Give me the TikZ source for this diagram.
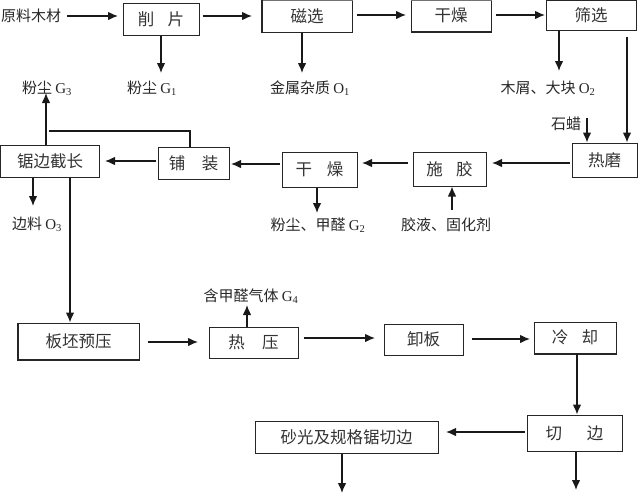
\documentclass[tikz,border=0pt]{standalone}
\usepackage{fontspec}
\setmainfont{Liberation Serif}
\newfontfamily\cjk{Noto Sans CJK SC}
\usetikzlibrary{arrows.meta}
\begin{document}
\begin{tikzpicture}[x=1pt,y=-1pt,
  box/.style={draw=black!85,line width=1pt,inner sep=0pt,font=\cjk\fontsize{16.5}{18}\selectfont,text=black!80},
  lbl/.style={inner sep=0pt,font=\cjk\fontsize{15}{17}\selectfont,text=black!85},
  arr/.style={line width=1.1pt,draw=black!90,-{Latex[length=10pt,width=8.5pt]}},
  ln/.style={line width=1.1pt,draw=black!90},
  thk/.style={line width=2pt,draw=black!85},
  thkg/.style={line width=2.2pt,draw=black!55}]
\useasboundingbox (0,0) rectangle (641,493);
% boxes
\node[box,minimum width=76,minimum height=32] (xp) at (161,19) {削\hspace{0.8em}片};
\node[box,minimum width=90,minimum height=32] (cx) at (307,16.5) {磁选};
\node[box,minimum width=80,minimum height=31] (gz1) at (451,15.5) {干燥};
\node[box,minimum width=90,minimum height=30] (sx) at (591,15.5) {筛选};
\node[box,minimum width=65,minimum height=34] (rm) at (604.5,160) {热磨};
\node[box,minimum width=73,minimum height=34] (sj) at (449.5,169) {施\hspace{0.8em}胶};
\node[box,minimum width=75,minimum height=35] (gz2) at (319.5,169.5) {干\hspace{0.9em}燥};
\node[box,minimum width=71,minimum height=32] (pz) at (193.5,163) {铺\hspace{1em}装};
\node[box,minimum width=99,minimum height=32] (jb) at (50,161) {锯边截长};
\node[box,minimum width=121,minimum height=36] (bp) at (78.5,341) {板坯预压};
\node[box,minimum width=89,minimum height=31] (ry) at (253.5,342.5) {热\hspace{1.05em}压};
\node[box,minimum width=79,minimum height=31] (xb) at (423.5,339.5) {卸板};
\node[box,minimum width=82,minimum height=31] (lq) at (575,337.5) {冷\hspace{0.8em}却};
\node[box,minimum width=95,minimum height=36] (qb) at (574.5,433) {切\hspace{1.5em}边};
\node[box,minimum width=183,minimum height=32] (sg) at (346.5,437) {砂光及规格锯切边};
% thicker edges
\draw[thkg] (cx.north west) -- (cx.north east);
\draw[thk] (cx.north west) -- (cx.south west);
\draw[thkg] (gz1.north west) -- (gz1.north east);
\draw[thk] (gz1.south west) -- (gz1.south east);
\draw[thk] (bp.north west) -- (bp.south west) -- (bp.south east);
\draw[thk] (lq.south west) -- (lq.south east);
% labels
\node[lbl,anchor=west] (ylmc) at (1,16) {原料木材};
\node[lbl] (g1) at (152,88) {粉尘 \rmfamily G\textsubscript{1}};
\node[lbl] (o1) at (310,88) {金属杂质 \rmfamily O\textsubscript{1}};
\node[lbl] (o2) at (548,88) {木屑、大块 \rmfamily O\textsubscript{2}};
\node[lbl] (sl) at (566,124) {石蜡};
\node[lbl] (g3) at (47,88) {粉尘 \rmfamily G\textsubscript{3}};
\node[lbl] (g2) at (318,225) {粉尘、甲醛 \rmfamily G\textsubscript{2}};
\node[lbl] (jy) at (446,225) {胶液、固化剂};
\node[lbl] (o3) at (37,224) {边料 \rmfamily O\textsubscript{3}};
\node[lbl] (g4) at (251,296) {含甲醛气体 \rmfamily G\textsubscript{4}};
% top row
\draw[arr] (ylmc.east |- 0,16) ++(6,0) -- (118,16);
\draw[arr] (xp.east |- 0,16) ++(3,0) -- (252,16);
\draw[arr] (cx.east |- 0,15) ++(4,0) -- (406,15);
\draw[arr] (gz1.east |- 0,15) ++(4,0) -- (545,15);
\draw[arr] (xp.south -| 161,0) -- (161,73);
\draw[arr] (cx.south -| 302,0) -- (302,73);
\draw[arr] (sx.south -| 559,0) -- (559,71);
\draw[arr] (627,37) -- (rm.north -| 627,0);
\draw[arr] (rm.north -| 587,0) ++(0,-25) -- (rm.north -| 587,0);
% second row
\draw[arr] (rm.west |- 0,163) ++(-2,0) -- (492,163);
\draw[arr] (sj.west |- 0,163) ++(-5,0) -- (362,163);
\draw[arr] (jy.north -| 452,0) ++(0,-8) -- (sj.south -| 452,0);
\draw[arr] (gz2.south -| 317,0) -- (317,213);
\draw[arr] (gz2.west |- 0,164) ++(-2,0) -- (231,164);
\draw[arr] (pz.west |- 0,161) ++(-2,0) -- (105,161);
\draw[arr] (jb.north -| 46,0) -- (46,93);
\draw[ln] (pz.north -| 190,0) -- (190,131) -- (49,131);
\draw[arr] (jb.south -| 33,0) -- (33,206);
\draw[arr] (jb.south -| 70,0) -- (bp.north -| 70,0);
% third row
\draw[arr] (bp.east |- 0,342) ++(8,0) -- (198,342);
\draw[arr] (ry.north -| 247,0) -- (247,305);
\draw[arr] (ry.east |- 0,338) ++(5,0) -- (375,338);
\draw[arr] (xb.east |- 0,339) ++(8,0) -- (530,339);
\draw[arr] (lq.south -| 577,0) -- (qb.north -| 577,0);
% bottom
\draw[arr] (qb.west |- 0,432) ++(-2,0) -- (446,432);
\draw[arr] (sg.south -| 342,0) -- (342,493);
\draw[arr] (qb.south -| 576,0) -- (576,490);
\end{tikzpicture}
\end{document}
